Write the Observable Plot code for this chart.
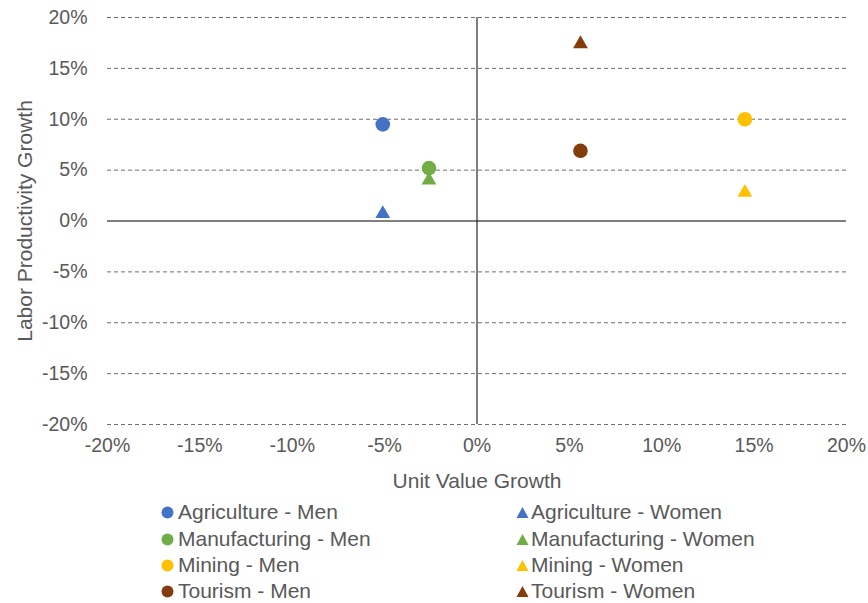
<!DOCTYPE html>
<html>
<head>
<meta charset="utf-8">
<script src="https://cdn.jsdelivr.net/npm/d3@7"></script>
<script src="https://cdn.jsdelivr.net/npm/@observablehq/plot@0.6"></script>
<style>
  body { margin: 0; background: #fff; font-family: "Liberation Sans", Arial, sans-serif; }
  #wrap { position: relative; width: 868px; height: 603px; }
  #legend { position: absolute; left: 0; top: 0; width: 868px; height: 603px; pointer-events: none; }
  .lbl { position: absolute; font-size: 21px; color: #595959; white-space: nowrap; line-height: 24px; }
  .mk { position: absolute; width: 13px; height: 13px; }
  .mk svg { display: block; }
</style>
</head>
<body>
<div id="wrap"><div id="chart"></div><div id="legend"></div></div>
<script>
const sectors = ["Agriculture", "Manufacturing", "Mining", "Tourism"];
const sectorColors = ["#4472C4", "#70AD47", "#FFC000", "#843C0C"];
const menUnitValueGrowth = [-5.1, -2.6, 14.5, 5.6];
const menProductivityGrowth = [9.5, 5.2, 10.0, 6.9];
const womenUnitValueGrowth = [-5.1, -2.6, 14.5, 5.6];
const womenProductivityGrowth = [0.9, 4.2, 3.0, 17.6];
const xTicks = [-20, -15, -10, -5, 0, 5, 10, 15, 20];
const yTicks = [-20, -15, -10, -5, 0, 5, 10, 15, 20];

const men = sectors.map((s, i) => ({sector: s, gender: "Men", x: menUnitValueGrowth[i], y: menProductivityGrowth[i]}));
const women = sectors.map((s, i) => ({sector: s, gender: "Women", x: womenUnitValueGrowth[i], y: womenProductivityGrowth[i]}));

const fmt = d => d + "%";
const chart = Plot.plot({
  width: 868,
  height: 495,
  marginLeft: 107,
  marginRight: 22,
  marginTop: 17,
  marginBottom: 71,
  style: {fontFamily: "'Liberation Sans', Arial, sans-serif", fontSize: "19.5px", color: "#595959", background: "#fff"},
  x: {domain: [-20, 20]},
  y: {domain: [-20, 20]},
  color: {domain: sectors, range: sectorColors},
  marks: [
    Plot.ruleY(yTicks.filter(d => d !== 0), {stroke: "#6e6e6e", strokeDasharray: "4,3", strokeWidth: 1, strokeOpacity: 1}),
    Plot.ruleY([0], {stroke: "#000", strokeWidth: 1}),
    Plot.ruleX([0], {stroke: "#000", strokeWidth: 1}),
    Plot.axisX({ticks: xTicks, tickFormat: fmt, tickSize: 0, tickPadding: 14, label: null, fill: "#595959"}),
    Plot.axisY({ticks: yTicks, tickFormat: fmt, tickSize: 0, tickPadding: 20, label: null, fill: "#595959"}),
    Plot.text(["Unit Value Growth"], {frameAnchor: "bottom", dy: 63, fontSize: 21, fill: "#595959", textAnchor: "middle"}),
    Plot.text(["Labor Productivity Growth"], {frameAnchor: "left", dx: -82, rotate: -90, fontSize: 21, fill: "#595959", textAnchor: "middle"}),
    Plot.dot(men, {x: "x", y: "y", fill: "sector", r: 7.3, symbol: "circle"}),
    Plot.dot(women, {x: "x", y: "y", fill: "sector", r: 5.5, symbol: "triangle", dy: 2})
  ]
});
document.getElementById("chart").appendChild(chart);

const legend = document.getElementById("legend");
const rowCenter = [512, 539, 565, 591];
sectors.forEach((s, i) => {
  [["Men", 167, 178, "circle"], ["Women", 522, 531, "triangle"]].forEach(([g, mx, tx, shape]) => {
    const mk = document.createElement("div");
    mk.className = "mk";
    mk.style.left = (mx - 6.5) + "px";
    mk.style.top = (rowCenter[i] - 6.5) + "px";
    mk.innerHTML = shape === "circle"
      ? `<svg width="13" height="13"><circle cx="6.5" cy="6.5" r="6" fill="${sectorColors[i]}"/></svg>`
      : `<svg width="13" height="13"><path d="M6.5,1 L12.5,12 L0.5,12 Z" fill="${sectorColors[i]}"/></svg>`;
    legend.appendChild(mk);
    const t = document.createElement("div");
    t.className = "lbl";
    t.style.left = tx + "px";
    t.style.top = (rowCenter[i] - 12) + "px";
    t.textContent = `${s} - ${g}`;
    legend.appendChild(t);
  });
});
</script>
</body>
</html>
